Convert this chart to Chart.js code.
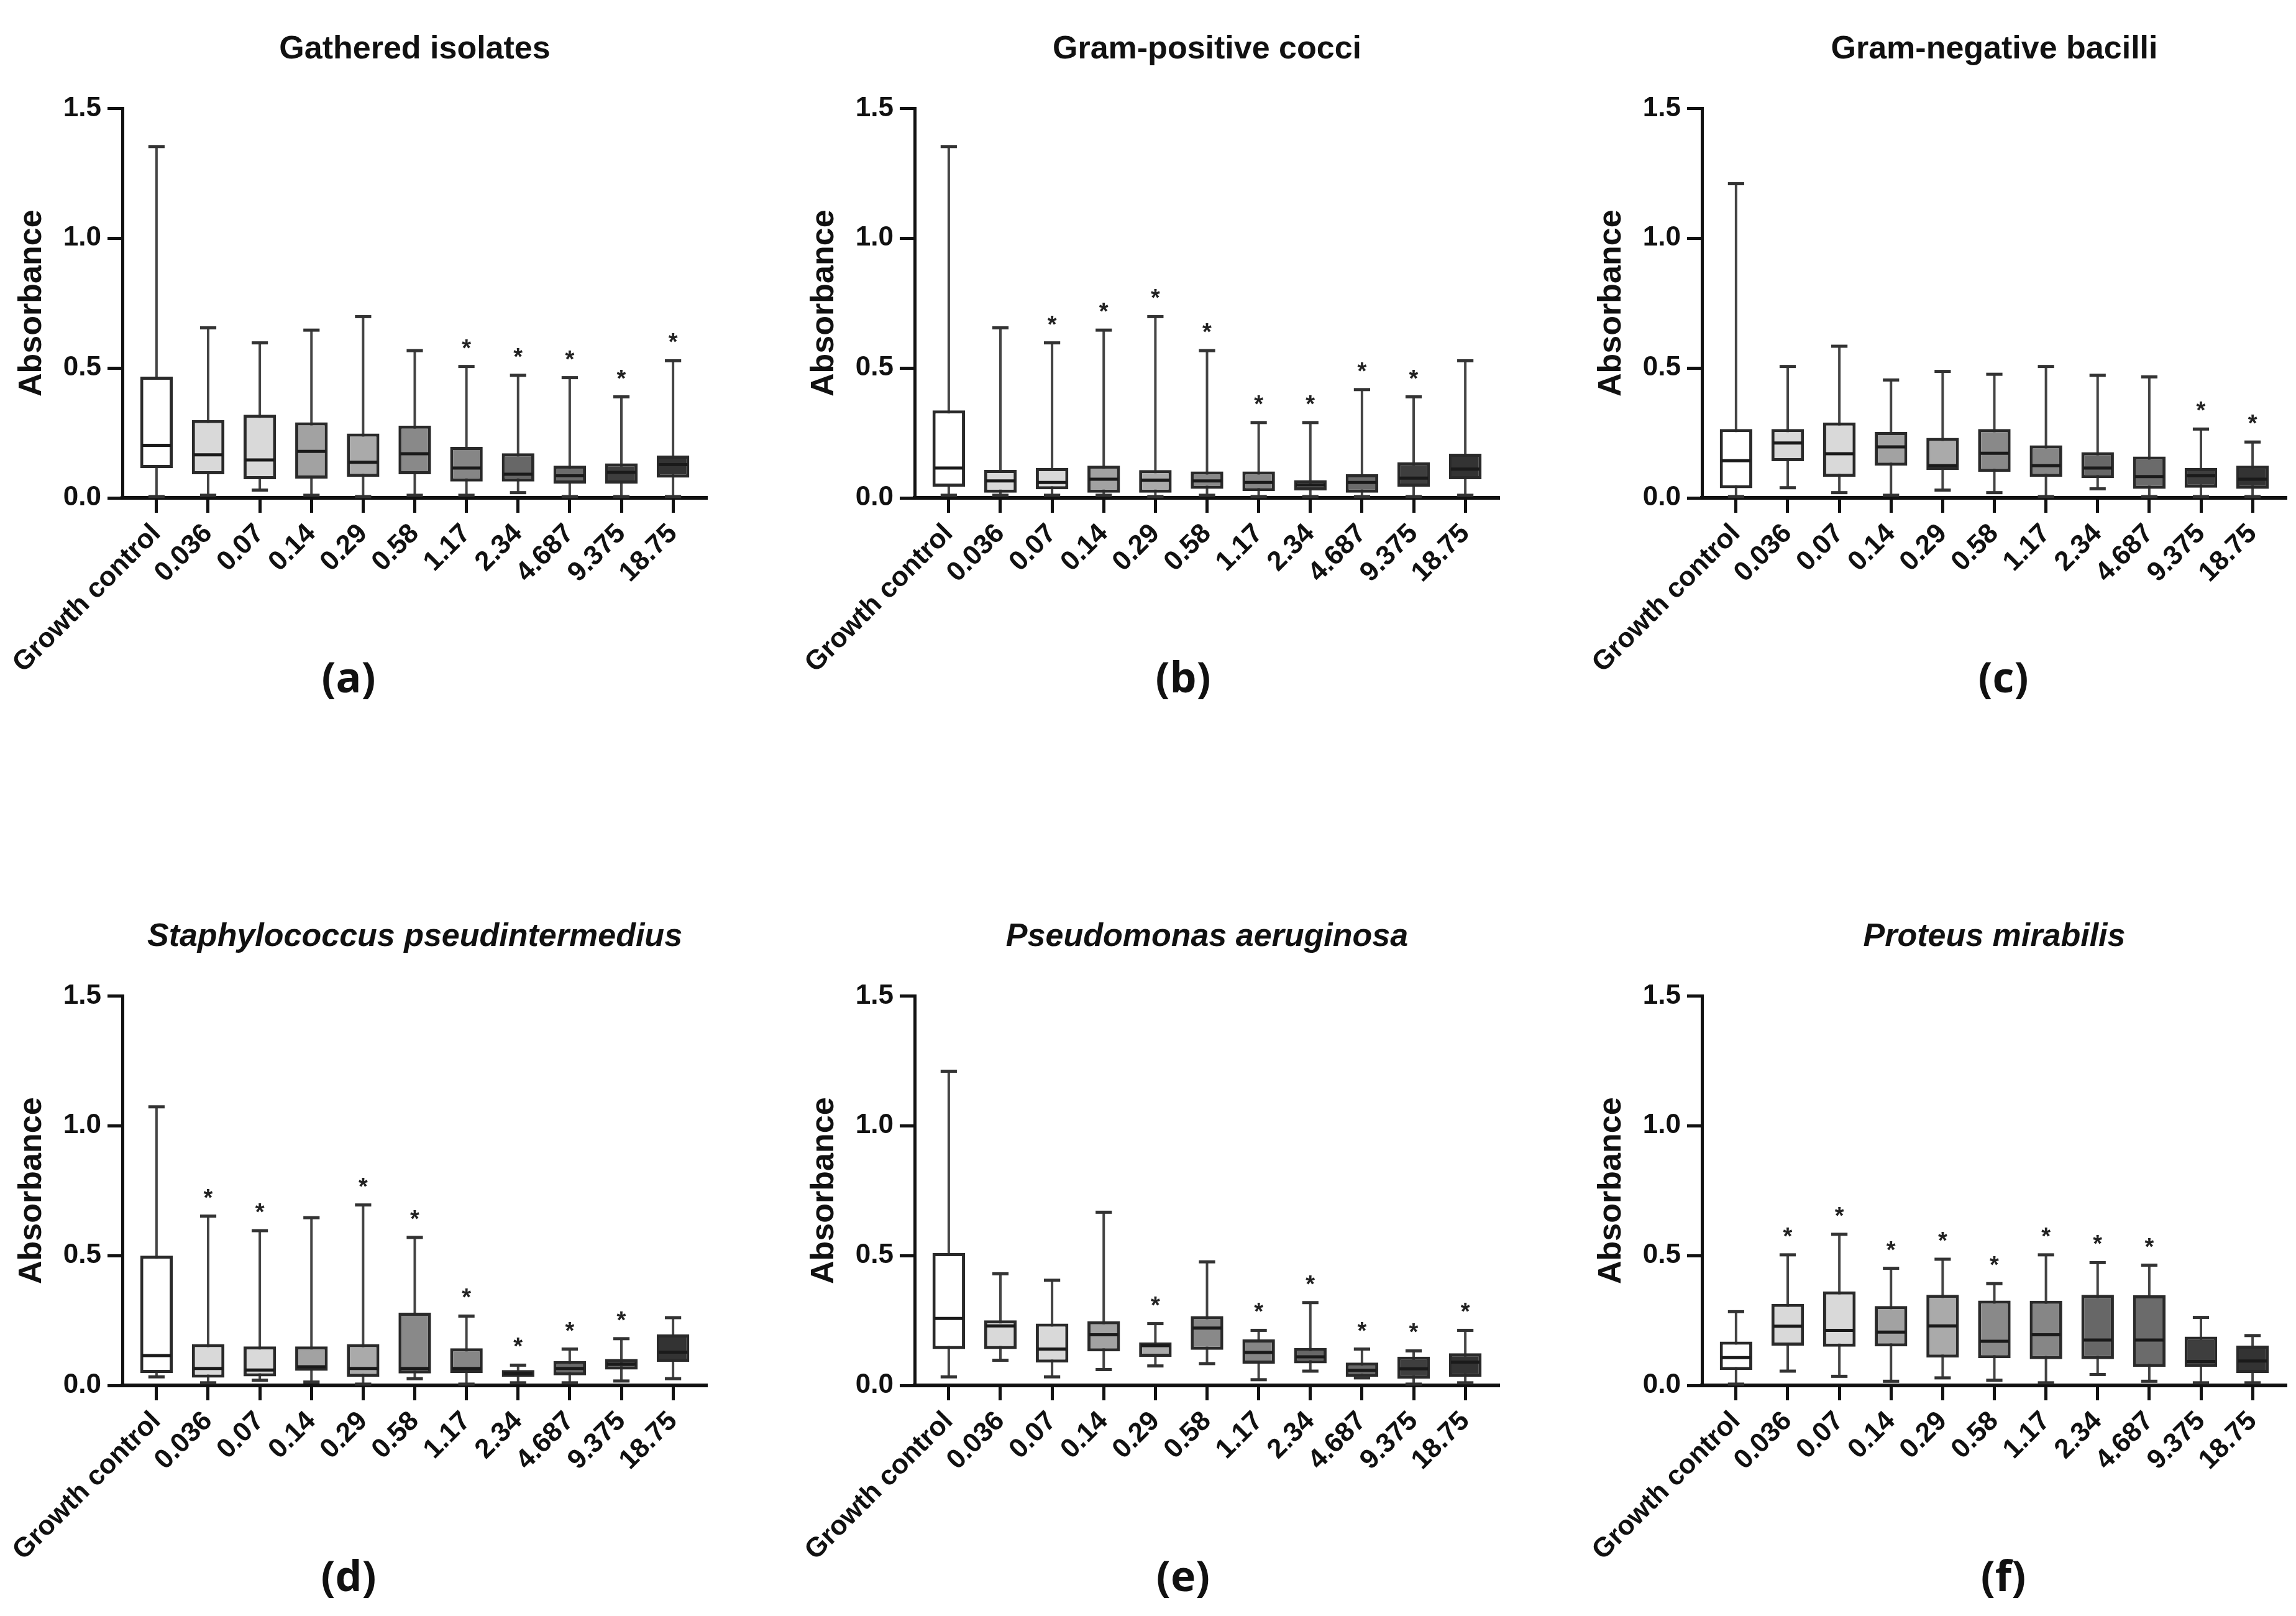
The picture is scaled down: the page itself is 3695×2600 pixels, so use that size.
<!DOCTYPE html>
<html>
<head>
<meta charset="utf-8">
<title>Absorbance box plots</title>
<script src="https://cdn.jsdelivr.net/npm/chart.js@4.4.1/dist/chart.umd.min.js"></script>
<style>
  body { margin: 0; background: #fff; width: 3695px; height: 2600px; position: relative; overflow: hidden; }
  canvas { position: absolute; }
  .tag { position: absolute; font-family: "Open Sans", sans-serif; font-weight: 700; font-size: 68px;
         line-height: 1; color: #111; transform: translate(-50%, -50%); }
</style>
</head>
<body>
<canvas id="panelA" width="1150" height="1141" style="left:0px;top:0px"></canvas>
<canvas id="panelB" width="1150" height="1141" style="left:1275px;top:0px"></canvas>
<canvas id="panelC" width="1150" height="1141" style="left:2542px;top:0px"></canvas>
<canvas id="panelD" width="1150" height="1141" style="left:0px;top:1428px"></canvas>
<canvas id="panelE" width="1150" height="1141" style="left:1275px;top:1428px"></canvas>
<canvas id="panelF" width="1150" height="1141" style="left:2542px;top:1428px"></canvas>
<div class="tag" style="left:561px;top:1088px">(a)</div>
<div class="tag" style="left:1904px;top:1088px">(b)</div>
<div class="tag" style="left:3224px;top:1088px">(c)</div>
<div class="tag" style="left:561px;top:2534px">(d)</div>
<div class="tag" style="left:1904px;top:2534px">(e)</div>
<div class="tag" style="left:3224px;top:2534px">(f)</div>

<script>
const categories = ["Growth control", "0.036", "0.07", "0.14", "0.29", "0.58", "1.17", "2.34", "4.687", "9.375", "18.75"];
const yTicks = [0, 0.5, 1.0, 1.5];
const boxFills = ["#ffffff", "#d9d9d9", "#d9d9d9", "#a2a2a2", "#aaaaaa", "#898989", "#868686", "#676767", "#6b6b6b", "#3e3e3e", "#333333"];

// Gathered isolates
const gatheredMin = [0.005, 0.01, 0.03, 0.01, 0.005, 0.01, 0.01, 0.02, 0.005, 0.005, 0.005];
const gatheredQ1 = [0.115, 0.091, 0.072, 0.074, 0.081, 0.091, 0.063, 0.063, 0.055, 0.055, 0.078];
const gatheredMed = [0.202, 0.166, 0.146, 0.179, 0.137, 0.170, 0.115, 0.091, 0.085, 0.098, 0.128];
const gatheredQ3 = [0.467, 0.300, 0.320, 0.291, 0.248, 0.278, 0.196, 0.172, 0.124, 0.133, 0.163];
const gatheredMax = [1.353, 0.655, 0.597, 0.646, 0.698, 0.567, 0.506, 0.472, 0.463, 0.389, 0.528];
const gatheredStars = [0, 0, 0, 0, 0, 0, 1, 1, 1, 1, 1];

// Gram-positive cocci
const gramPosMin = [0.01, 0.01, 0.01, 0.01, 0.005, 0.01, 0.005, 0.005, 0.005, 0.005, 0.01];
const gramPosQ1 = [0.043, 0.020, 0.033, 0.020, 0.020, 0.035, 0.026, 0.029, 0.020, 0.043, 0.072];
const gramPosMed = [0.115, 0.065, 0.059, 0.072, 0.068, 0.065, 0.059, 0.050, 0.059, 0.076, 0.111];
const gramPosQ3 = [0.337, 0.108, 0.115, 0.124, 0.107, 0.102, 0.102, 0.068, 0.091, 0.137, 0.170];
const gramPosMax = [1.353, 0.655, 0.597, 0.646, 0.698, 0.567, 0.290, 0.290, 0.417, 0.389, 0.528];
const gramPosStars = [0, 0, 1, 1, 1, 1, 1, 1, 1, 1, 0];

// Gram-negative bacilli
const gramNegMin = [0.005, 0.039, 0.02, 0.01, 0.03, 0.02, 0.005, 0.035, 0.005, 0.005, 0.005];
const gramNegQ1 = [0.037, 0.141, 0.081, 0.124, 0.107, 0.100, 0.081, 0.076, 0.035, 0.039, 0.035];
const gramNegMed = [0.143, 0.211, 0.170, 0.196, 0.124, 0.172, 0.124, 0.115, 0.082, 0.085, 0.072];
const gramNegQ3 = [0.265, 0.265, 0.290, 0.254, 0.231, 0.265, 0.202, 0.176, 0.159, 0.115, 0.124];
const gramNegMax = [1.210, 0.506, 0.584, 0.454, 0.487, 0.476, 0.506, 0.472, 0.466, 0.265, 0.215];
const gramNegStars = [0, 0, 0, 0, 0, 0, 0, 0, 0, 1, 1];

// Staphylococcus pseudintermedius
const staphMin = [0.033, 0.01, 0.02, 0.013, 0.005, 0.026, 0.005, 0.01, 0.01, 0.017, 0.026];
const staphQ1 = [0.048, 0.030, 0.035, 0.056, 0.033, 0.046, 0.048, 0.033, 0.039, 0.061, 0.091];
const staphMed = [0.115, 0.065, 0.059, 0.072, 0.065, 0.065, 0.065, 0.046, 0.065, 0.082, 0.128];
const staphQ3 = [0.500, 0.159, 0.150, 0.150, 0.159, 0.280, 0.143, 0.059, 0.094, 0.102, 0.196];
const staphMax = [1.073, 0.652, 0.596, 0.646, 0.695, 0.570, 0.267, 0.078, 0.140, 0.180, 0.261];
const staphStars = [0, 1, 1, 0, 1, 1, 1, 1, 1, 1, 0];

// Pseudomonas aeruginosa
const pseudoMin = [0.033, 0.097, 0.033, 0.061, 0.075, 0.084, 0.022, 0.055, 0.029, 0.005, 0.01];
const pseudoQ1 = [0.140, 0.140, 0.088, 0.131, 0.110, 0.137, 0.084, 0.085, 0.033, 0.026, 0.033];
const pseudoMed = [0.258, 0.229, 0.140, 0.195, 0.153, 0.221, 0.127, 0.110, 0.058, 0.064, 0.090];
const pseudoQ3 = [0.510, 0.251, 0.238, 0.247, 0.166, 0.267, 0.177, 0.144, 0.088, 0.111, 0.124];
const pseudoMax = [1.210, 0.430, 0.405, 0.667, 0.238, 0.476, 0.212, 0.319, 0.140, 0.133, 0.212];
const pseudoStars = [0, 0, 0, 0, 1, 0, 1, 1, 1, 1, 1];

// Proteus mirabilis
const proteusMin = [0.005, 0.055, 0.035, 0.016, 0.029, 0.02, 0.01, 0.042, 0.016, 0.01, 0.01];
const proteusQ1 = [0.059, 0.153, 0.149, 0.150, 0.107, 0.105, 0.101, 0.101, 0.071, 0.071, 0.048];
const proteusMed = [0.107, 0.228, 0.212, 0.205, 0.229, 0.170, 0.195, 0.175, 0.175, 0.092, 0.094];
const proteusQ3 = [0.169, 0.314, 0.362, 0.306, 0.349, 0.327, 0.326, 0.349, 0.347, 0.188, 0.153];
const proteusMax = [0.284, 0.503, 0.582, 0.451, 0.486, 0.392, 0.503, 0.473, 0.463, 0.262, 0.192];
const proteusStars = [0, 1, 1, 1, 1, 1, 1, 1, 1, 0, 0];

const FONT = "'Liberation Sans', Arial, sans-serif";
const INK = "#111";

// Whiskers, caps, medians and significance stars on top of the floating bars
const boxExtras = {
  id: "boxExtras",
  beforeDatasetsDraw(chart) {
    const ds = chart.data.datasets[0];
    const { x, y } = chart.scales;
    const ctx = chart.ctx;
    ctx.save();
    ctx.strokeStyle = "#444";
    ctx.lineWidth = 4;
    ds.mins.forEach((lo, i) => {
      const px = x.getPixelForValue(i);
      ctx.beginPath();
      ctx.moveTo(px, y.getPixelForValue(lo));
      ctx.lineTo(px, y.getPixelForValue(ds.maxs[i]));
      ctx.stroke();
    });
    ctx.restore();
  },
  afterDatasetsDraw(chart) {
    const ds = chart.data.datasets[0];
    const { x, y } = chart.scales;
    const bars = chart.getDatasetMeta(0).data;
    const ctx = chart.ctx;
    ctx.save();
    bars.forEach((bar, i) => {
      const px = x.getPixelForValue(i);
      const half = bar.width / 2;
      const cap = bar.width / 4;
      // caps
      ctx.strokeStyle = "#333";
      ctx.lineWidth = 5;
      [ds.mins[i], ds.maxs[i]].forEach(v => {
        const py = y.getPixelForValue(v);
        ctx.beginPath();
        ctx.moveTo(px - cap, py);
        ctx.lineTo(px + cap, py);
        ctx.stroke();
      });
      // median
      const my = y.getPixelForValue(ds.meds[i]);
      ctx.strokeStyle = "#1a1a1a";
      ctx.lineWidth = 5;
      ctx.beginPath();
      ctx.moveTo(px - half + 3, my);
      ctx.lineTo(px + half - 3, my);
      ctx.stroke();
      // star
      if (ds.stars[i]) {
        ctx.fillStyle = "#222";
        ctx.font = "bold 38px " + FONT;
        ctx.textAlign = "center";
        ctx.textBaseline = "alphabetic";
        ctx.fillText("*", px, y.getPixelForValue(ds.maxs[i]) - 17);
      }
    });
    ctx.restore();
  }
};

function makePanel(id, title, italic, mins, q1s, meds, q3s, maxs, stars) {
  const ctx = document.getElementById(id).getContext("2d");
  return new Chart(ctx, {
    type: "bar",
    data: {
      datasets: [{
        data: q1s.map((q, i) => ({ x: i, y: [q, q3s[i]] })),
        backgroundColor: boxFills,
        borderColor: "#2a2a2a",
        borderWidth: 5,
        borderSkipped: false,
        barPercentage: 0.63,
        categoryPercentage: 1,
        mins, meds, maxs, stars
      }]
    },
    options: {
      responsive: false,
      animation: false,
      devicePixelRatio: 1,
      layout: { padding: { left: 0, right: 12, top: 0, bottom: 0 } },
      plugins: {
        legend: { display: false },
        tooltip: { enabled: false },
        title: {
          display: true,
          text: title,
          fullSize: false,
          color: INK,
          font: { family: FONT, size: 52, weight: "bold", style: italic ? "italic" : "normal" },
          padding: { top: 48, bottom: 64 }
        }
      },
      scales: {
        x: {
          type: "linear",
          min: -0.66,
          max: 10.66,
          offset: false,
          afterBuildTicks: s => { s.ticks = categories.map((c, i) => ({ value: i })); },
          grid: { offset: false, drawOnChartArea: false, tickLength: 24, tickWidth: 5, tickColor: INK },
          border: { width: 6, color: INK },
          ticks: {
            autoSkip: false, minRotation: 45, maxRotation: 45, padding: 8, color: INK,
            font: { family: FONT, size: 44, weight: "bold" },
            callback: v => categories[v]
          },
          afterFit: s => { s.height = 340; s.paddingLeft = 0; s.paddingRight = 0; }
        },
        y: {
          min: 0,
          max: 1.5,
          afterBuildTicks: s => { s.ticks = yTicks.map(v => ({ value: v })); },
          grid: { drawOnChartArea: false, tickLength: 24, tickWidth: 5, tickColor: INK },
          border: { width: 5, color: INK },
          ticks: {
            padding: 10, color: INK,
            font: { family: FONT, size: 44, weight: "bold" },
            callback: v => Number(v).toFixed(1)
          },
          title: {
            display: true, text: "Absorbance", color: INK,
            font: { family: FONT, size: 52, weight: "bold" },
            padding: { top: 20, bottom: 0 }
          },
          afterFit: s => { s.width = 197; s.paddingTop = 0; s.paddingBottom = 0; }
        }
      }
    },
    plugins: [boxExtras]
  });
}

makePanel("panelA", "Gathered isolates", false, gatheredMin, gatheredQ1, gatheredMed, gatheredQ3, gatheredMax, gatheredStars);
makePanel("panelB", "Gram-positive cocci", false, gramPosMin, gramPosQ1, gramPosMed, gramPosQ3, gramPosMax, gramPosStars);
makePanel("panelC", "Gram-negative bacilli", false, gramNegMin, gramNegQ1, gramNegMed, gramNegQ3, gramNegMax, gramNegStars);
makePanel("panelD", "Staphylococcus pseudintermedius", true, staphMin, staphQ1, staphMed, staphQ3, staphMax, staphStars);
makePanel("panelE", "Pseudomonas aeruginosa", true, pseudoMin, pseudoQ1, pseudoMed, pseudoQ3, pseudoMax, pseudoStars);
makePanel("panelF", "Proteus mirabilis", true, proteusMin, proteusQ1, proteusMed, proteusQ3, proteusMax, proteusStars);
</script>
</body>
</html>
